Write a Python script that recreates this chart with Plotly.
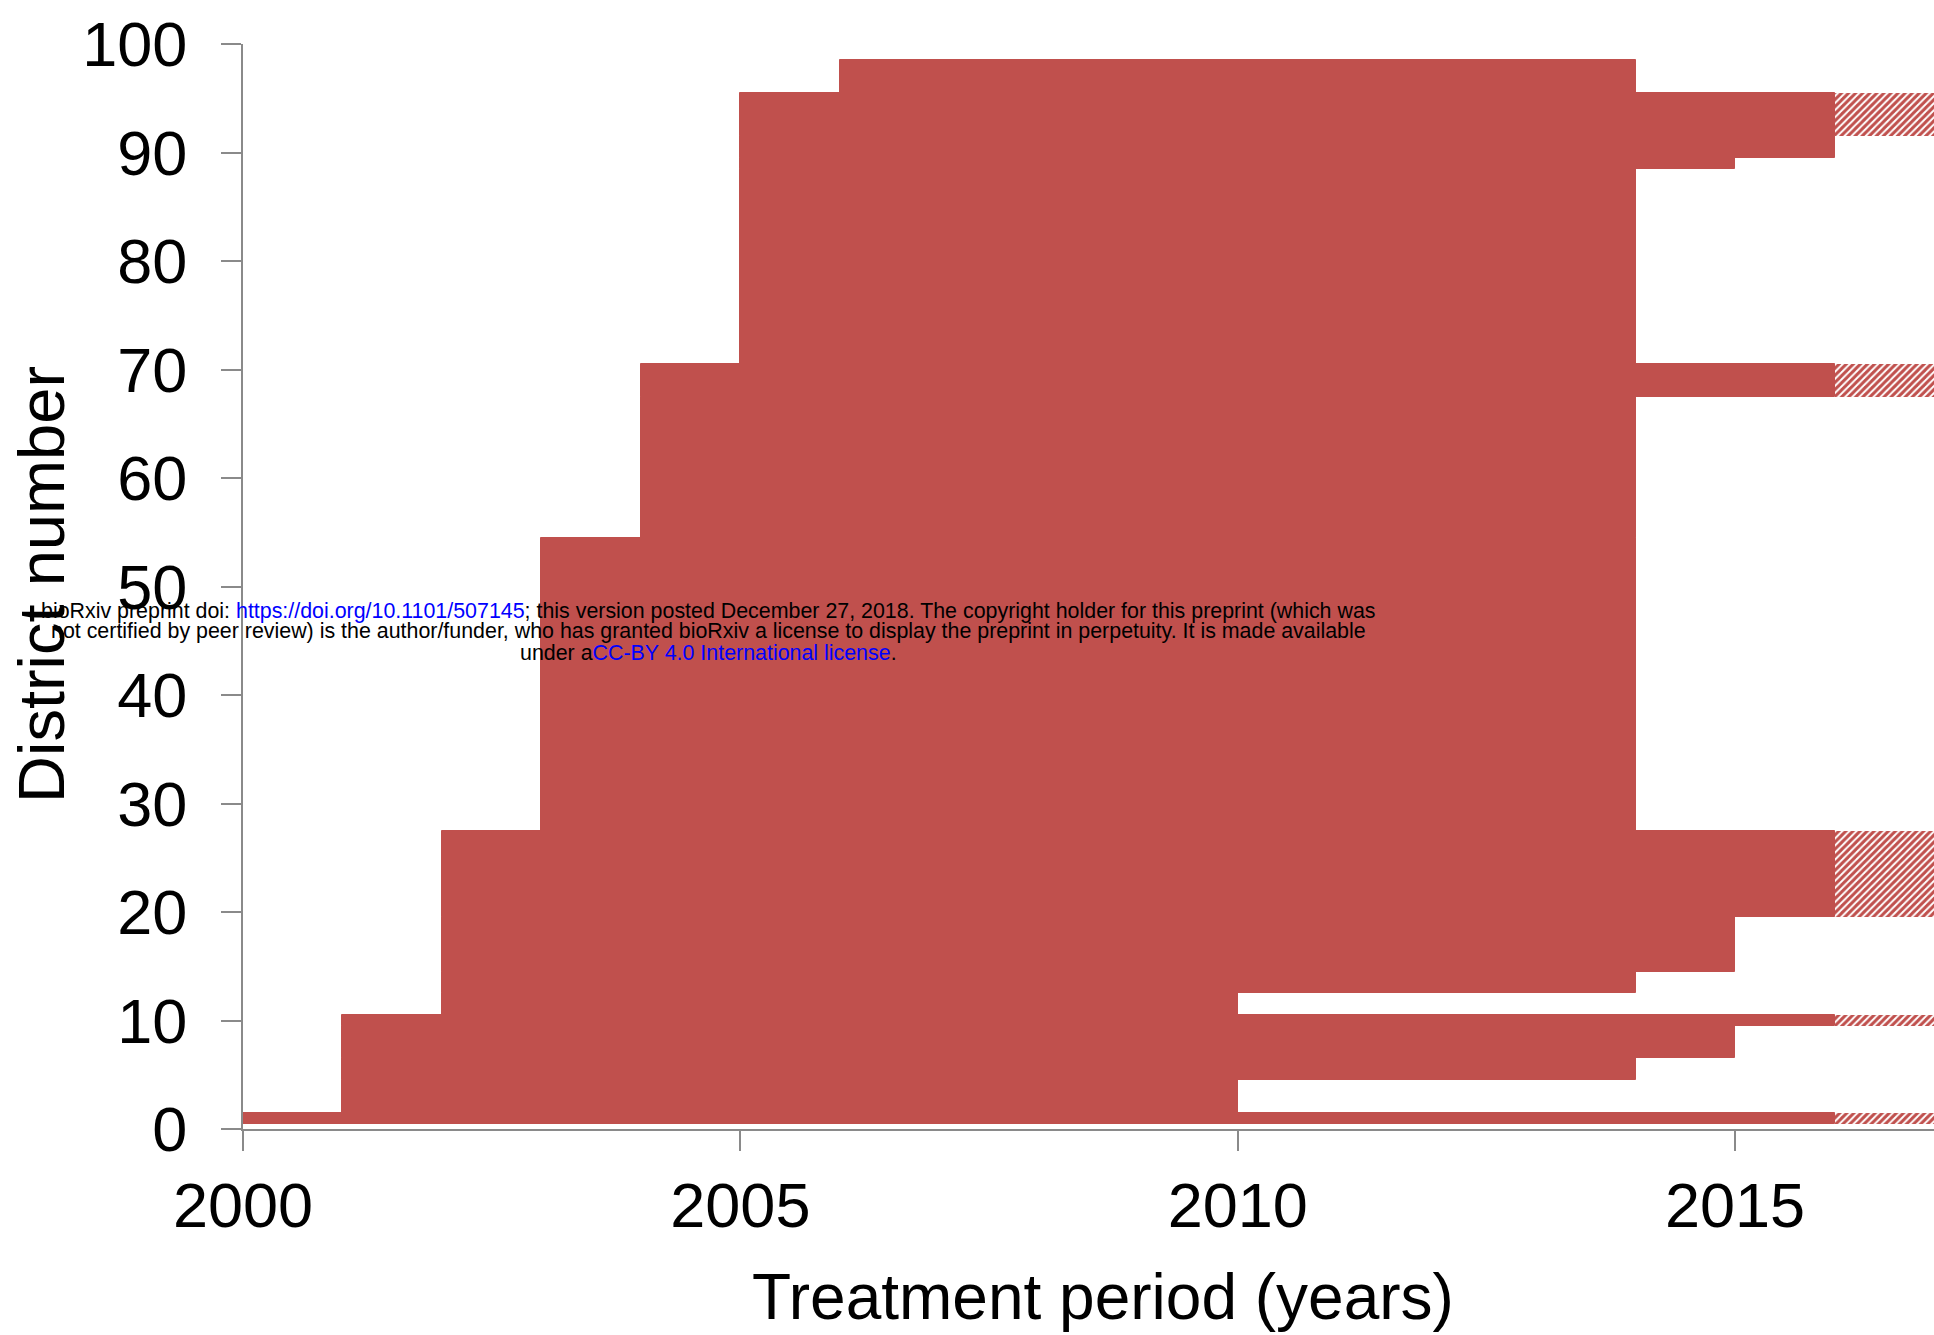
import plotly.graph_objects as go

# ---- Data: groups of districts sharing the same treatment history ----
first_district = [1, 2, 5, 7, 10, 11, 13, 15, 20, 28, 55, 68, 71, 89, 90, 92, 96]
last_district = [1, 4, 6, 9, 10, 12, 14, 19, 27, 54, 67, 70, 88, 89, 91, 95, 98]
start_year = [2000, 2001, 2001, 2001, 2001, 2002, 2002, 2002, 2002, 2003, 2004,
              2004, 2005, 2005, 2005, 2005, 2006]
end_year = [2016, 2010, 2014, 2015, 2016, 2010, 2014, 2015, 2016, 2014, 2014,
            2016, 2014, 2015, 2016, 2016, 2014]
# hatched continuation (planned treatment) after end_year, None = none
planned_end = [2017, None, None, None, 2017, None, None, None, 2017, None, None,
               2017, None, None, None, 2017, None]

x_tick_vals = [2000, 2005, 2010, 2015]
y_tick_vals = [0, 10, 20, 30, 40, 50, 60, 70, 80, 90, 100]

x_title = "Treatment period (years)"
y_title = "District number"
notice_lines = [
    'bioRxiv preprint doi: <span style="color:#0000FF">https://doi.org/10.1101/507145</span>; '
    'this version posted December 27, 2018. The copyright holder for this preprint (which was',
    'not certified by peer review) is the author/funder, who has granted bioRxiv a license to '
    'display the preprint in perpetuity. It is made available',
    'under a<span style="color:#0000FF">CC-BY 4.0 International license</span>.',
]

# ---- Styling ----
RED = "#C0504D"
AXIS = "#8A8A8A"
FONT = "Liberation Sans, Arial, Helvetica, sans-serif"
W, H = 1934, 1335
ML, MR, MT, MB = 243, 0, 44, 206
PW, PH = W - ML - MR, H - MT - MB


def px_x(px):
    return (px - ML) / PW


def px_y(py):
    return (H - MB - py) / PH


centers = [(a + b) / 2 for a, b in zip(first_district, last_district)]
thick = [b - a + 1 for a, b in zip(first_district, last_district)]

fig = go.Figure()
fig.add_trace(go.Bar(
    orientation="h",
    y=centers,
    x=[e - s for s, e in zip(start_year, end_year)],
    base=start_year,
    width=thick,
    marker=dict(color=RED, line=dict(width=1, color=RED)),
    hoverinfo="skip",
))

hy, hx, hb, hw = [], [], [], []
for c, t, e, p in zip(centers, thick, end_year, planned_end):
    if p is not None:
        hy.append(c)
        hx.append(p - e)
        hb.append(e)
        hw.append(t)

fig.add_trace(go.Bar(
    orientation="h",
    y=hy, x=hx, base=hb, width=hw,
    marker=dict(color=RED, line=dict(width=0),
                pattern=dict(shape="/", fgcolor=RED, bgcolor="white",
                             size=5, solidity=0.6, fillmode="replace")),
    hoverinfo="skip",
))

axis_common = dict(
    showgrid=False, zeroline=False, showline=True, linecolor=AXIS, linewidth=2,
    ticks="outside", ticklen=20, tickwidth=2, tickcolor=AXIS,
    tickfont=dict(family=FONT, size=63, color="black"),
)

fig.update_layout(
    width=W, height=H,
    margin=dict(l=ML, r=MR, t=MT, b=MB, pad=0),
    paper_bgcolor="white", plot_bgcolor="white",
    barmode="overlay", bargap=0, showlegend=False,
    xaxis=dict(range=[2000, 2017], tickvals=x_tick_vals,
               ticklabelstandoff=0, **axis_common),
    yaxis=dict(range=[0, 100], tickvals=y_tick_vals,
               ticklabelstandoff=21, **axis_common),
)

annotations = [
    dict(text=x_title, x=px_x(1103), y=px_y(1297), xref="paper", yref="paper",
         xanchor="center", yanchor="middle", showarrow=False,
         font=dict(family=FONT, size=64, color="black")),
    dict(text=y_title, x=px_x(41), y=px_y(585), xref="paper", yref="paper",
         xanchor="center", yanchor="middle", showarrow=False, textangle=-90,
         font=dict(family=FONT, size=65, color="black")),
]
for line, cy in zip(notice_lines, [610.5, 631.5, 652.5]):
    annotations.append(dict(
        text=line, x=px_x(708), y=px_y(cy), xref="paper", yref="paper",
        xanchor="center", yanchor="middle", showarrow=False,
        font=dict(family=FONT, size=21.4, color="black")))
fig.update_layout(annotations=annotations)

fig.write_html("out.html")
